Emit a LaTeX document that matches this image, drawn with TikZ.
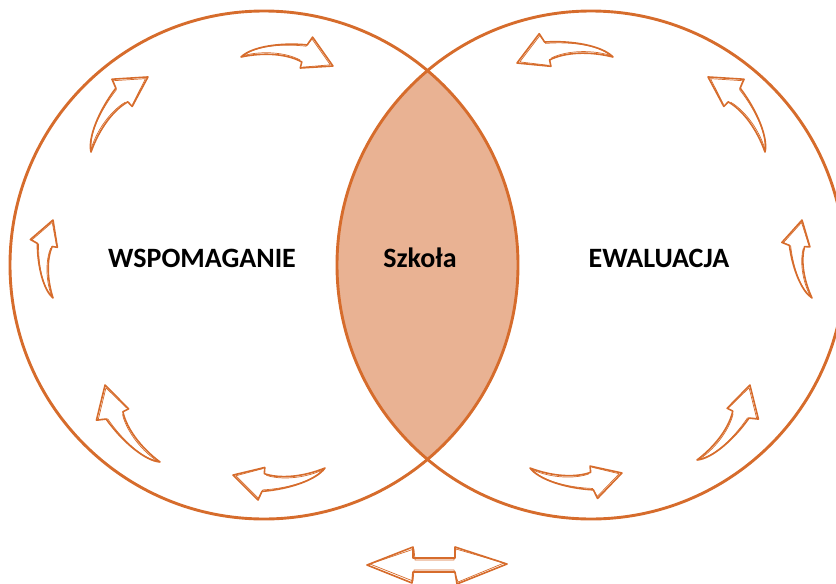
\documentclass[tikz,border=0pt]{standalone}
\usepackage{fontspec}
\setmainfont{Carlito}
\definecolor{ring}{RGB}{214,108,44}
\definecolor{lens}{RGB}{233,178,147}
\tikzset{
	ringline/.style={draw=ring, line width=2.9pt},
	sketch/.style={draw=ring, line width=1.6pt, line join=round},
	sketchthin/.style={draw=ring, line width=0.7pt, line join=round},
	lbl/.style={anchor=base, font=\fontsize{28}{34}\selectfont\bfseries},
	pics/sketcharrow/.style={code={
		\draw[sketch] (0,0) .. controls (0.1,-0.12) and (0.4,-0.2) .. (0.7,-0.2) -- (0.75,-0.29) -- (1,0) -- (0.65,0.056) -- (0.66,-0.011) .. controls (0.5,-0.08) and (0.25,-0.08) .. (0,0) -- cycle;
		\draw[sketchthin] (0.02,-0.01) .. controls (0.13,-0.13) and (0.42,-0.19) .. (0.69,-0.185) -- (0.745,-0.27) -- (0.97,-0.01) -- (0.67,0.045);
		\draw[sketchthin] (0.03,-0.02) .. controls (0.25,-0.1) and (0.5,-0.09) .. (0.64,-0.03);
	}}
}
\begin{document}
\begin{tikzpicture}[x=1pt, y=-1pt]
	\useasboundingbox (0,0) rectangle (836,584);
	\coordinate (cl) at (264,265);
	\coordinate (cr) at (591,265);
	% common part
	\begin{scope}
		\clip (cl) circle[radius=254pt];
		\fill[lens] (cr) circle[radius=254pt];
	\end{scope}
	\draw[ringline] (cl) circle[radius=254pt];
	\draw[ringline] (cr) circle[radius=254pt];
	\node[lbl] (wsp) at (202,267) {WSPOMAGANIE};
	\node[lbl] (szk) at (420,267) {Szkoła};
	\node[lbl] (ewa) at (659,267) {EWALUACJA};
	% left ring, clockwise
	\pic[rotate=-5.6, scale=92.4] at (241,57) {sketcharrow};
	\pic[rotate=52.8, scale=94.2] at (91,152) {sketcharrow};
	\pic[rotate=90, scale=78] at (53,298) {sketcharrow};
	\pic[rotate=125.5, scale=94.6] at (160,462) {sketcharrow};
	\pic[rotate=184.4, scale=92.3] at (325,468) {sketcharrow};
	% right ring, anticlockwise
	\pic[rotate=183.6, scale=96.2, yscale=-1] at (613,57) {sketcharrow};
	\pic[rotate=127.2, scale=94.2, yscale=-1] at (765,152) {sketcharrow};
	\pic[rotate=97.3, scale=78.6] at (812,298) {sketcharrow};
	\pic[rotate=54.8, scale=91.8, yscale=-1] at (697,460) {sketcharrow};
	\pic[rotate=-3.1, scale=92.1, yscale=-1] at (530,468) {sketcharrow};
	% double arrow below
	\draw[sketch] (367,565) -- (413,547) -- (413,558) -- (455,558) -- (455,547) -- (507,564) -- (457,584) -- (455,572) -- (413,572) -- (412,583) -- cycle;
	\draw[sketchthin] (370,564) -- (414,549) -- (415,560) -- (454,560) -- (456,549) -- (504,563) -- (458,582) -- (454,570) -- (414,570) -- (413,581) -- cycle;
\end{tikzpicture}
\end{document}
